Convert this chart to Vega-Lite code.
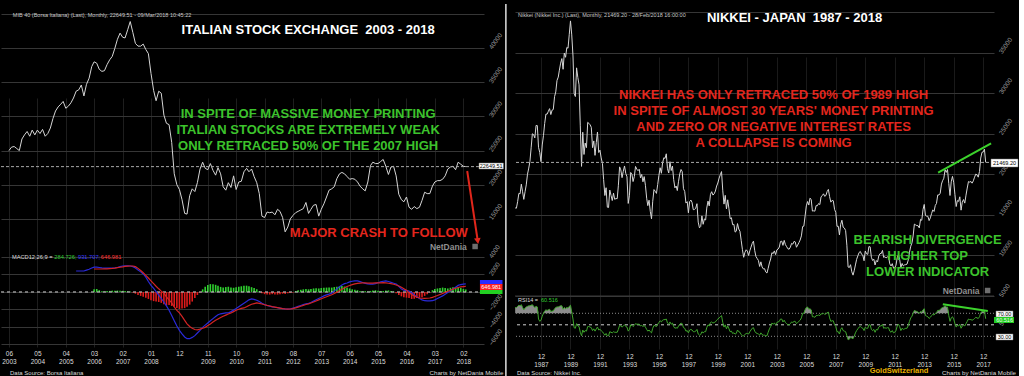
{
"$schema":"https://vega.github.io/schema/vega-lite/v6.json",
"background":"#000000",
"padding":{"left":0,"top":3,"right":0,"bottom":0},
"bounds":"flush",
"spacing":31,
"config":{"view":{"stroke":null},"font":"Liberation Sans","text":{"font":"Liberation Sans"},"axis":{"labelFont":"Liberation Sans"}},
"datasets":{
"mib":[
{"d":"2003-06","v":25000},{"d":"2003-07","v":25500},{"d":"2003-08","v":25600},{"d":"2003-09","v":25300},{"d":"2003-10","v":25000},{"d":"2003-11","v":26700},{"d":"2003-12","v":27300},
{"d":"2004-01","v":27800},{"d":"2004-02","v":27100},{"d":"2004-03","v":28000},{"d":"2004-04","v":27300},{"d":"2004-05","v":28000},{"d":"2004-06","v":27500},{"d":"2004-07","v":28100},{"d":"2004-08","v":27100},{"d":"2004-09","v":27500},{"d":"2004-10","v":28300},{"d":"2004-11","v":29700},{"d":"2004-12","v":30800},
{"d":"2005-01","v":31400},{"d":"2005-02","v":31800},{"d":"2005-03","v":32200},{"d":"2005-04","v":31200},{"d":"2005-05","v":31500},{"d":"2005-06","v":32000},{"d":"2005-07","v":32700},{"d":"2005-08","v":33700},{"d":"2005-09","v":33900},{"d":"2005-10","v":34600},{"d":"2005-11","v":33000},{"d":"2005-12","v":34700},
{"d":"2006-01","v":35600},{"d":"2006-02","v":37300},{"d":"2006-03","v":38000},{"d":"2006-04","v":37800},{"d":"2006-05","v":36900},{"d":"2006-06","v":36600},{"d":"2006-07","v":36700},{"d":"2006-08","v":37600},{"d":"2006-09","v":38300},{"d":"2006-10","v":38800},{"d":"2006-11","v":40000},{"d":"2006-12","v":41300},
{"d":"2007-01","v":42200},{"d":"2007-02","v":41600},{"d":"2007-03","v":41500},{"d":"2007-04","v":42700},{"d":"2007-05","v":43900},{"d":"2007-06","v":42300},{"d":"2007-07","v":40700},{"d":"2007-08","v":40300},{"d":"2007-09","v":40300},{"d":"2007-10","v":40600},{"d":"2007-11","v":39800},{"d":"2007-12","v":39200},
{"d":"2008-01","v":36300},{"d":"2008-02","v":33800},{"d":"2008-03","v":32300},{"d":"2008-04","v":33700},{"d":"2008-05","v":33400},{"d":"2008-06","v":30200},{"d":"2008-07","v":29000},{"d":"2008-08","v":28800},{"d":"2008-09","v":26200},{"d":"2008-10","v":21600},{"d":"2008-11","v":20000},{"d":"2008-12","v":19300},
{"d":"2009-01","v":17800},{"d":"2009-02","v":15800},{"d":"2009-03","v":15700},{"d":"2009-04","v":18400},{"d":"2009-05","v":19400},{"d":"2009-06","v":19000},{"d":"2009-07","v":20300},{"d":"2009-08","v":22300},{"d":"2009-09","v":23300},{"d":"2009-10","v":22400},{"d":"2009-11","v":22200},{"d":"2009-12","v":23100},
{"d":"2010-01","v":22100},{"d":"2010-02","v":21400},{"d":"2010-03","v":22500},{"d":"2010-04","v":21600},{"d":"2010-05","v":19700},{"d":"2010-06","v":19200},{"d":"2010-07","v":20300},{"d":"2010-08","v":19600},{"d":"2010-09","v":21300},{"d":"2010-10","v":19300},{"d":"2010-11","v":20400},{"d":"2010-12","v":20500},
{"d":"2011-01","v":21900},{"d":"2011-02","v":22400},{"d":"2011-03","v":21900},{"d":"2011-04","v":22300},{"d":"2011-05","v":21200},{"d":"2011-06","v":20300},{"d":"2011-07","v":18700},{"d":"2011-08","v":15400},{"d":"2011-09","v":15200},{"d":"2011-10","v":16000},{"d":"2011-11","v":15900},{"d":"2011-12","v":16000},
{"d":"2012-01","v":15600},{"d":"2012-02","v":16400},{"d":"2012-03","v":16100},{"d":"2012-04","v":15200},{"d":"2012-05","v":13100},{"d":"2012-06","v":13800},{"d":"2012-07","v":15000},{"d":"2012-08","v":15500},{"d":"2012-09","v":15900},{"d":"2012-10","v":16100},{"d":"2012-11","v":16300},{"d":"2012-12","v":16500},
{"d":"2013-01","v":17400},{"d":"2013-02","v":15800},{"d":"2013-03","v":16400},{"d":"2013-04","v":17000},{"d":"2013-05","v":17100},{"d":"2013-06","v":15400},{"d":"2013-07","v":16400},{"d":"2013-08","v":17200},{"d":"2013-09","v":18200},{"d":"2013-10","v":19200},{"d":"2013-11","v":19400},{"d":"2013-12","v":19700},
{"d":"2014-01","v":20900},{"d":"2014-02","v":21600},{"d":"2014-03","v":21800},{"d":"2014-04","v":21600},{"d":"2014-05","v":21200},{"d":"2014-06","v":20800},{"d":"2014-07","v":20900},{"d":"2014-08","v":20800},{"d":"2014-09","v":20400},{"d":"2014-10","v":19800},{"d":"2014-11","v":19400},{"d":"2014-12","v":19100},
{"d":"2015-01","v":20400},{"d":"2015-02","v":22800},{"d":"2015-03","v":23300},{"d":"2015-04","v":23100},{"d":"2015-05","v":23100},{"d":"2015-06","v":23400},{"d":"2015-07","v":23700},{"d":"2015-08","v":22700},{"d":"2015-09","v":21500},{"d":"2015-10","v":22600},{"d":"2015-11","v":22700},{"d":"2015-12","v":21300},
{"d":"2016-01","v":18600},{"d":"2016-02","v":17800},{"d":"2016-03","v":17500},{"d":"2016-04","v":18200},{"d":"2016-05","v":16700},{"d":"2016-06","v":16400},{"d":"2016-07","v":16800},{"d":"2016-08","v":16500},{"d":"2016-09","v":16700},{"d":"2016-10","v":17700},{"d":"2016-11","v":18900},{"d":"2016-12","v":18700},
{"d":"2017-01","v":18700},{"d":"2017-02","v":19800},{"d":"2017-03","v":20400},{"d":"2017-04","v":20600},{"d":"2017-05","v":20600},{"d":"2017-06","v":20800},{"d":"2017-07","v":21300},{"d":"2017-08","v":22300},{"d":"2017-09","v":22600},{"d":"2017-10","v":22700},{"d":"2017-11","v":22200},{"d":"2017-12","v":23300},
{"d":"2018-01","v":23000},{"d":"2018-02","v":22700},{"d":"2018-03","v":22649.51}
],
"macd":[
{"d":"2005-08","m":2400},{"d":"2005-09","m":2400},{"d":"2005-10","m":2400},{"d":"2005-11","m":2400},{"d":"2005-12","m":2500},
{"d":"2006-01","m":2600},{"d":"2006-02","m":2750},{"d":"2006-03","m":2850,"s":2630,"h":300},{"d":"2006-04","m":2850,"s":2630,"h":340},{"d":"2006-05","m":2800,"s":2630,"h":200},{"d":"2006-06","m":2750,"s":2630,"h":80},{"d":"2006-07","m":2740,"s":2640,"h":60},{"d":"2006-08","m":2740,"s":2650,"h":100},{"d":"2006-09","m":2740,"s":2680,"h":120},{"d":"2006-10","m":2740,"s":2700,"h":150},{"d":"2006-11","m":2760,"s":2730,"h":130},{"d":"2006-12","m":2800,"s":2780,"h":160},
{"d":"2007-01","m":2900,"s":2830,"h":150},{"d":"2007-02","m":2970,"s":2870,"h":130},{"d":"2007-03","m":2990,"s":2920,"h":100},{"d":"2007-04","m":3000,"s":2950,"h":80},{"d":"2007-05","m":2970,"s":2970,"h":50},{"d":"2007-06","m":2900,"s":2970,"h":-50},{"d":"2007-07","m":2740,"s":2900,"h":-200},{"d":"2007-08","m":2500,"s":2700,"h":-350},{"d":"2007-09","m":2300,"s":2450,"h":-450},{"d":"2007-10","m":2060,"s":2200,"h":-550},{"d":"2007-11","m":1700,"s":1900,"h":-650},{"d":"2007-12","m":1200,"s":1600,"h":-800},
{"d":"2008-01","m":750,"s":1260,"h":-950},{"d":"2008-02","m":400,"s":950,"h":-1050},{"d":"2008-03","m":50,"s":650,"h":-1100},{"d":"2008-04","m":-350,"s":360,"h":-1150},{"d":"2008-05","m":-750,"s":100,"h":-1250},{"d":"2008-06","m":-1150,"s":-150,"h":-1400},{"d":"2008-07","m":-1600,"s":-550,"h":-1550},{"d":"2008-08","m":-2100,"s":-900,"h":-1500},{"d":"2008-09","m":-2700,"s":-1260,"h":-1600},{"d":"2008-10","m":-3300,"s":-1700,"h":-1700},{"d":"2008-11","m":-3900,"s":-2100,"h":-1850},{"d":"2008-12","m":-4400,"s":-2400,"h":-1950},
{"d":"2009-01","m":-4800,"s":-2800,"h":-1900},{"d":"2009-02","m":-5150,"s":-3250,"h":-1850},{"d":"2009-03","m":-5350,"s":-3650,"h":-1700},{"d":"2009-04","m":-5350,"s":-3950,"h":-1450},{"d":"2009-05","m":-5200,"s":-4150,"h":-1100},{"d":"2009-06","m":-5000,"s":-4300,"h":-700},{"d":"2009-07","m":-4700,"s":-4340,"h":-350},{"d":"2009-08","m":-4400,"s":-4250,"h":-50},{"d":"2009-09","m":-4050,"s":-4150,"h":300},{"d":"2009-10","m":-3800,"s":-4050,"h":600},{"d":"2009-11","m":-3550,"s":-3850,"h":800},{"d":"2009-12","m":-3300,"s":-3660,"h":900},
{"d":"2010-01","m":-3050,"s":-3450,"h":880},{"d":"2010-02","m":-2800,"s":-3250,"h":820},{"d":"2010-03","m":-2600,"s":-3090,"h":700},{"d":"2010-04","m":-2500,"s":-2930,"h":580},{"d":"2010-05","m":-2450,"s":-2780,"h":500},{"d":"2010-06","m":-2400,"s":-2650,"h":560},{"d":"2010-07","m":-2400,"s":-2520,"h":600},{"d":"2010-08","m":-2250,"s":-2400,"h":520},{"d":"2010-09","m":-2080,"s":-2250,"h":480},{"d":"2010-10","m":-1900,"s":-2100,"h":550},{"d":"2010-11","m":-1700,"s":-1980,"h":600},{"d":"2010-12","m":-1500,"s":-1880,"h":650},
{"d":"2011-01","m":-1300,"s":-1830,"h":700},{"d":"2011-02","m":-1100,"s":-1700,"h":720},{"d":"2011-03","m":-900,"s":-1550,"h":650},{"d":"2011-04","m":-800,"s":-1400,"h":550},{"d":"2011-05","m":-850,"s":-1330,"h":450},{"d":"2011-06","m":-950,"s":-1260,"h":300},{"d":"2011-07","m":-1100,"s":-1300,"h":100},{"d":"2011-08","m":-1300,"s":-1380,"h":-150},{"d":"2011-09","m":-1450,"s":-1460,"h":-250},{"d":"2011-10","m":-1550,"s":-1540,"h":-280},{"d":"2011-11","m":-1620,"s":-1610,"h":-300},{"d":"2011-12","m":-1700,"s":-1680,"h":-250},
{"d":"2012-01","m":-1750,"s":-1740,"h":-280},{"d":"2012-02","m":-1800,"s":-1800,"h":-300},{"d":"2012-03","m":-1850,"s":-1850,"h":-250},{"d":"2012-04","m":-1900,"s":-1900,"h":-200},{"d":"2012-05","m":-1950,"s":-1940,"h":-220},{"d":"2012-06","m":-1970,"s":-1960,"h":-150},{"d":"2012-07","m":-1950,"s":-1950,"h":-100},{"d":"2012-08","m":-1850,"s":-1900,"h":-50},{"d":"2012-09","m":-1750,"s":-1820,"h":100},{"d":"2012-10","m":-1650,"s":-1730,"h":200},{"d":"2012-11","m":-1550,"s":-1630,"h":250},{"d":"2012-12","m":-1450,"s":-1530,"h":300},
{"d":"2013-01","m":-1350,"s":-1440,"h":350},{"d":"2013-02","m":-1300,"s":-1360,"h":300},{"d":"2013-03","m":-1200,"s":-1260,"h":350},{"d":"2013-04","m":-1050,"s":-1150,"h":400},{"d":"2013-05","m":-900,"s":-1030,"h":420},{"d":"2013-06","m":-750,"s":-900,"h":400},{"d":"2013-07","m":-600,"s":-780,"h":450},{"d":"2013-08","m":-450,"s":-660,"h":480},{"d":"2013-09","m":-330,"s":-550,"h":500},{"d":"2013-10","m":-250,"s":-430,"h":520},{"d":"2013-11","m":-150,"s":-320,"h":500},{"d":"2013-12","m":100,"s":-180,"h":560},
{"d":"2014-01","m":350,"s":-20,"h":600},{"d":"2014-02","m":600,"s":150,"h":650},{"d":"2014-03","m":800,"s":320,"h":680},{"d":"2014-04","m":950,"s":480,"h":620},{"d":"2014-05","m":1030,"s":620,"h":500},{"d":"2014-06","m":1150,"s":740,"h":400},{"d":"2014-07","m":1230,"s":840,"h":300},{"d":"2014-08","m":1260,"s":920,"h":250},{"d":"2014-09","m":1260,"s":980,"h":200},{"d":"2014-10","m":1180,"s":1010,"h":120},{"d":"2014-11","m":1080,"s":1030,"h":80},{"d":"2014-12","m":980,"s":1030,"h":100},
{"d":"2015-01","m":920,"s":1020,"h":60},{"d":"2015-02","m":900,"s":1010,"h":120},{"d":"2015-03","m":900,"s":1020,"h":180},{"d":"2015-04","m":950,"s":1030,"h":200},{"d":"2015-05","m":1050,"s":1040,"h":150},{"d":"2015-06","m":1150,"s":1050,"h":100},{"d":"2015-07","m":1230,"s":1060,"h":120},{"d":"2015-08","m":1260,"s":1050,"h":160},{"d":"2015-09","m":1200,"s":1000,"h":180},{"d":"2015-10","m":1100,"s":950,"h":100},{"d":"2015-11","m":1000,"s":880,"h":50},{"d":"2015-12","m":900,"s":800,"h":-150},
{"d":"2016-01","m":650,"s":690,"h":-350},{"d":"2016-02","m":350,"s":550,"h":-500},{"d":"2016-03","m":200,"s":380,"h":-600},{"d":"2016-04","m":150,"s":200,"h":-650},{"d":"2016-05","m":100,"s":-100,"h":-700},{"d":"2016-06","m":-100,"s":-300,"h":-800},{"d":"2016-07","m":-350,"s":-470,"h":-780},{"d":"2016-08","m":-550,"s":-600,"h":-700},{"d":"2016-09","m":-750,"s":-690,"h":-650},{"d":"2016-10","m":-900,"s":-720,"h":-600},{"d":"2016-11","m":-1000,"s":-730,"h":-450},{"d":"2016-12","m":-1030,"s":-720,"h":-250},
{"d":"2017-01","m":-1030,"s":-690,"h":-50},{"d":"2017-02","m":-1000,"s":-620,"h":200},{"d":"2017-03","m":-900,"s":-520,"h":350},{"d":"2017-04","m":-750,"s":-410,"h":400},{"d":"2017-05","m":-600,"s":-290,"h":450},{"d":"2017-06","m":-450,"s":-170,"h":500},{"d":"2017-07","m":-250,"s":-50,"h":450},{"d":"2017-08","m":-50,"s":80,"h":400},{"d":"2017-09","m":150,"s":200,"h":480},{"d":"2017-10","m":350,"s":320,"h":550},{"d":"2017-11","m":550,"s":420,"h":520},{"d":"2017-12","m":750,"s":510,"h":500},
{"d":"2018-01","m":850,"s":580,"h":450},{"d":"2018-02","m":900,"s":620,"h":350},{"d":"2018-03","m":931.707,"s":646.981,"h":284.726}
],
"nk":[
{"d":"1986-03","v":15860,"r":80},{"d":"1986-04","v":15825,"r":80},{"d":"1986-05","v":16630,"r":82},{"d":"1986-06","v":17650,"r":84},{"d":"1986-07","v":17600,"r":83},{"d":"1986-08","v":18790,"r":85},{"d":"1986-09","v":17850,"r":80},{"d":"1986-10","v":16910,"r":76},{"d":"1986-11","v":17850,"r":79},{"d":"1986-12","v":18700,"r":81},
{"d":"1987-01","v":20020,"r":82},{"d":"1987-02","v":20770,"r":83},{"d":"1987-03","v":21570,"r":83},{"d":"1987-04","v":23270,"r":84},{"d":"1987-05","v":25000,"r":85},{"d":"1987-06","v":24900,"r":82},{"d":"1987-07","v":24490,"r":80},{"d":"1987-08","v":26030,"r":82},{"d":"1987-09","v":26010,"r":81},{"d":"1987-10","v":23330,"r":60},{"d":"1987-11","v":22690,"r":56},{"d":"1987-12","v":21560,"r":58},
{"d":"1988-01","v":23620,"r":65},{"d":"1988-02","v":24800,"r":70},{"d":"1988-03","v":26260,"r":74},{"d":"1988-04","v":27430,"r":76},{"d":"1988-05","v":27420,"r":75},{"d":"1988-06","v":27770,"r":76},{"d":"1988-07","v":28100,"r":77},{"d":"1988-08","v":27370,"r":73},{"d":"1988-09","v":27920,"r":74},{"d":"1988-10","v":27990,"r":74},{"d":"1988-11","v":29580,"r":78},{"d":"1988-12","v":30160,"r":80},
{"d":"1989-01","v":31580,"r":81},{"d":"1989-02","v":31990,"r":81},{"d":"1989-03","v":32840,"r":82},{"d":"1989-04","v":33710,"r":83},{"d":"1989-05","v":34270,"r":83},{"d":"1989-06","v":32950,"r":77},{"d":"1989-07","v":34950,"r":80},{"d":"1989-08","v":34430,"r":78},{"d":"1989-09","v":35640,"r":80},{"d":"1989-10","v":35550,"r":79},{"d":"1989-11","v":37270,"r":82},{"d":"1989-12","v":38916,"r":84},
{"d":"1990-01","v":37190,"r":72},{"d":"1990-02","v":34590,"r":60},{"d":"1990-03","v":29980,"r":45},{"d":"1990-04","v":29590,"r":44},{"d":"1990-05","v":33130,"r":52},{"d":"1990-06","v":31940,"r":48},{"d":"1990-07","v":31040,"r":47},{"d":"1990-08","v":25980,"r":37},{"d":"1990-09","v":20980,"r":31},{"d":"1990-10","v":25190,"r":41},{"d":"1990-11","v":22450,"r":37},{"d":"1990-12","v":23850,"r":40},
{"d":"1991-01","v":23290,"r":39},{"d":"1991-02","v":26410,"r":47},{"d":"1991-03","v":26290,"r":47},{"d":"1991-04","v":26110,"r":46},{"d":"1991-05","v":25790,"r":45},{"d":"1991-06","v":23290,"r":40},{"d":"1991-07","v":24120,"r":43},{"d":"1991-08","v":22340,"r":39},{"d":"1991-09","v":23920,"r":43},{"d":"1991-10","v":25220,"r":46},{"d":"1991-11","v":22690,"r":41},{"d":"1991-12","v":22980,"r":42},
{"d":"1992-01","v":22020,"r":40},{"d":"1992-02","v":21340,"r":38},{"d":"1992-03","v":19350,"r":35},{"d":"1992-04","v":17390,"r":32},{"d":"1992-05","v":18350,"r":35},{"d":"1992-06","v":15950,"r":31},{"d":"1992-07","v":15910,"r":31},{"d":"1992-08","v":18060,"r":38},{"d":"1992-09","v":17400,"r":37},{"d":"1992-10","v":16770,"r":36},{"d":"1992-11","v":17680,"r":38},{"d":"1992-12","v":16920,"r":37},
{"d":"1993-01","v":17020,"r":37},{"d":"1993-02","v":17000,"r":37},{"d":"1993-03","v":18590,"r":42},{"d":"1993-04","v":20920,"r":49},{"d":"1993-05","v":20550,"r":48},{"d":"1993-06","v":19590,"r":46},{"d":"1993-07","v":20380,"r":48},{"d":"1993-08","v":21030,"r":50},{"d":"1993-09","v":20110,"r":47},{"d":"1993-10","v":19700,"r":46},{"d":"1993-11","v":16410,"r":39},{"d":"1993-12","v":17420,"r":42},
{"d":"1994-01","v":20230,"r":50},{"d":"1994-02","v":19990,"r":49},{"d":"1994-03","v":19110,"r":47},{"d":"1994-04","v":19730,"r":49},{"d":"1994-05","v":20970,"r":52},{"d":"1994-06","v":20640,"r":51},{"d":"1994-07","v":20450,"r":51},{"d":"1994-08","v":20630,"r":51},{"d":"1994-09","v":19560,"r":48},{"d":"1994-10","v":19990,"r":49},{"d":"1994-11","v":19080,"r":47},{"d":"1994-12","v":19720,"r":49},
{"d":"1995-01","v":18650,"r":46},{"d":"1995-02","v":17050,"r":42},{"d":"1995-03","v":16140,"r":39},{"d":"1995-04","v":16810,"r":41},{"d":"1995-05","v":15440,"r":38},{"d":"1995-06","v":14520,"r":36},{"d":"1995-07","v":16680,"r":44},{"d":"1995-08","v":18120,"r":49},{"d":"1995-09","v":17910,"r":48},{"d":"1995-10","v":17650,"r":47},{"d":"1995-11","v":18740,"r":51},{"d":"1995-12","v":19870,"r":54},
{"d":"1996-01","v":20810,"r":57},{"d":"1996-02","v":20130,"r":55},{"d":"1996-03","v":21410,"r":58},{"d":"1996-04","v":22040,"r":59},{"d":"1996-05","v":21960,"r":59},{"d":"1996-06","v":22530,"r":60},{"d":"1996-07","v":20690,"r":53},{"d":"1996-08","v":20170,"r":51},{"d":"1996-09","v":21560,"r":55},{"d":"1996-10","v":20470,"r":51},{"d":"1996-11","v":21020,"r":53},{"d":"1996-12","v":19360,"r":47},
{"d":"1997-01","v":18330,"r":44},{"d":"1997-02","v":18560,"r":45},{"d":"1997-03","v":18000,"r":44},{"d":"1997-04","v":19150,"r":48},{"d":"1997-05","v":20070,"r":51},{"d":"1997-06","v":20600,"r":53},{"d":"1997-07","v":20330,"r":52},{"d":"1997-08","v":18230,"r":45},{"d":"1997-09","v":17890,"r":44},{"d":"1997-10","v":16460,"r":39},{"d":"1997-11","v":16630,"r":40},{"d":"1997-12","v":15260,"r":36},
{"d":"1998-01","v":16630,"r":41},{"d":"1998-02","v":16830,"r":42},{"d":"1998-03","v":16530,"r":41},{"d":"1998-04","v":15640,"r":38},{"d":"1998-05","v":15670,"r":38},{"d":"1998-06","v":15830,"r":39},{"d":"1998-07","v":16380,"r":42},{"d":"1998-08","v":14110,"r":34},{"d":"1998-09","v":13410,"r":32},{"d":"1998-10","v":13560,"r":33},{"d":"1998-11","v":14880,"r":38},{"d":"1998-12","v":13840,"r":36},
{"d":"1999-01","v":14500,"r":38},{"d":"1999-02","v":14370,"r":38},{"d":"1999-03","v":15840,"r":45},{"d":"1999-04","v":16700,"r":50},{"d":"1999-05","v":16110,"r":48},{"d":"1999-06","v":17530,"r":54},{"d":"1999-07","v":17860,"r":55},{"d":"1999-08","v":17440,"r":53},{"d":"1999-09","v":17600,"r":54},{"d":"1999-10","v":17940,"r":55},{"d":"1999-11","v":18560,"r":58},{"d":"1999-12","v":18930,"r":60},
{"d":"2000-01","v":19540,"r":62},{"d":"2000-02","v":19960,"r":64},{"d":"2000-03","v":20340,"r":66},{"d":"2000-04","v":17970,"r":54},{"d":"2000-05","v":16330,"r":46},{"d":"2000-06","v":17410,"r":50},{"d":"2000-07","v":15730,"r":43},{"d":"2000-08","v":16860,"r":48},{"d":"2000-09","v":15750,"r":43},{"d":"2000-10","v":14540,"r":38},{"d":"2000-11","v":14650,"r":39},{"d":"2000-12","v":13790,"r":35},
{"d":"2001-01","v":13840,"r":36},{"d":"2001-02","v":12880,"r":34},{"d":"2001-03","v":12990,"r":35},{"d":"2001-04","v":13930,"r":41},{"d":"2001-05","v":13260,"r":38},{"d":"2001-06","v":12970,"r":37},{"d":"2001-07","v":11860,"r":33},{"d":"2001-08","v":10710,"r":31},{"d":"2001-09","v":9770,"r":31},{"d":"2001-10","v":10370,"r":33},{"d":"2001-11","v":10700,"r":35},{"d":"2001-12","v":10540,"r":35},
{"d":"2002-01","v":9990,"r":34},{"d":"2002-02","v":10590,"r":38},{"d":"2002-03","v":11020,"r":41},{"d":"2002-04","v":11490,"r":44},{"d":"2002-05","v":11760,"r":45},{"d":"2002-06","v":10620,"r":39},{"d":"2002-07","v":9880,"r":36},{"d":"2002-08","v":9620,"r":35},{"d":"2002-09","v":9380,"r":34},{"d":"2002-10","v":8640,"r":32},{"d":"2002-11","v":9210,"r":36},{"d":"2002-12","v":8580,"r":33},
{"d":"2003-01","v":8340,"r":32},{"d":"2003-02","v":8360,"r":32},{"d":"2003-03","v":7970,"r":31},{"d":"2003-04","v":7830,"r":31},{"d":"2003-05","v":8420,"r":37},{"d":"2003-06","v":9080,"r":43},{"d":"2003-07","v":9560,"r":47},{"d":"2003-08","v":10340,"r":53},{"d":"2003-09","v":10220,"r":51},{"d":"2003-10","v":10560,"r":53},{"d":"2003-11","v":10100,"r":50},{"d":"2003-12","v":10680,"r":54},
{"d":"2004-01","v":10780,"r":55},{"d":"2004-02","v":11040,"r":56},{"d":"2004-03","v":11720,"r":60},{"d":"2004-04","v":11760,"r":60},{"d":"2004-05","v":11240,"r":55},{"d":"2004-06","v":11860,"r":58},{"d":"2004-07","v":11330,"r":54},{"d":"2004-08","v":11080,"r":52},{"d":"2004-09","v":10820,"r":50},{"d":"2004-10","v":10770,"r":50},{"d":"2004-11","v":11030,"r":52},{"d":"2004-12","v":11490,"r":55},
{"d":"2005-01","v":11390,"r":54},{"d":"2005-02","v":11740,"r":56},{"d":"2005-03","v":11670,"r":56},{"d":"2005-04","v":11010,"r":52},{"d":"2005-05","v":11280,"r":54},{"d":"2005-06","v":11580,"r":56},{"d":"2005-07","v":11900,"r":58},{"d":"2005-08","v":12410,"r":62},{"d":"2005-09","v":13570,"r":70},{"d":"2005-10","v":13610,"r":70},{"d":"2005-11","v":14870,"r":76},{"d":"2005-12","v":16110,"r":80},
{"d":"2006-01","v":16650,"r":81},{"d":"2006-02","v":16210,"r":77},{"d":"2006-03","v":17060,"r":78},{"d":"2006-04","v":16910,"r":76},{"d":"2006-05","v":15470,"r":64},{"d":"2006-06","v":15500,"r":64},{"d":"2006-07","v":15460,"r":63},{"d":"2006-08","v":16140,"r":66},{"d":"2006-09","v":16130,"r":66},{"d":"2006-10","v":16400,"r":67},{"d":"2006-11","v":16270,"r":66},{"d":"2006-12","v":17230,"r":69},
{"d":"2007-01","v":17380,"r":69},{"d":"2007-02","v":17600,"r":70},{"d":"2007-03","v":17290,"r":68},{"d":"2007-04","v":17400,"r":69},{"d":"2007-05","v":17880,"r":71},{"d":"2007-06","v":18140,"r":72},{"d":"2007-07","v":17250,"r":62},{"d":"2007-08","v":16570,"r":56},{"d":"2007-09","v":16790,"r":57},{"d":"2007-10","v":16740,"r":57},{"d":"2007-11","v":15680,"r":50},{"d":"2007-12","v":15310,"r":47},
{"d":"2008-01","v":13590,"r":38},{"d":"2008-02","v":13600,"r":38},{"d":"2008-03","v":12530,"r":34},{"d":"2008-04","v":13850,"r":42},{"d":"2008-05","v":14340,"r":45},{"d":"2008-06","v":13480,"r":40},{"d":"2008-07","v":13380,"r":39},{"d":"2008-08","v":13070,"r":38},{"d":"2008-09","v":11260,"r":31},{"d":"2008-10","v":8580,"r":24},{"d":"2008-11","v":8510,"r":25},{"d":"2008-12","v":8860,"r":28},
{"d":"2009-01","v":7990,"r":27},{"d":"2009-02","v":7570,"r":26},{"d":"2009-03","v":8110,"r":30},{"d":"2009-04","v":8830,"r":36},{"d":"2009-05","v":9520,"r":40},{"d":"2009-06","v":9960,"r":43},{"d":"2009-07","v":10360,"r":46},{"d":"2009-08","v":10490,"r":47},{"d":"2009-09","v":10130,"r":45},{"d":"2009-10","v":10030,"r":44},{"d":"2009-11","v":9350,"r":40},{"d":"2009-12","v":10550,"r":46},
{"d":"2010-01","v":10200,"r":44},{"d":"2010-02","v":10130,"r":44},{"d":"2010-03","v":11090,"r":50},{"d":"2010-04","v":11060,"r":50},{"d":"2010-05","v":9770,"r":42},{"d":"2010-06","v":9380,"r":40},{"d":"2010-07","v":9540,"r":42},{"d":"2010-08","v":8820,"r":37},{"d":"2010-09","v":9370,"r":42},{"d":"2010-10","v":9200,"r":41},{"d":"2010-11","v":9940,"r":46},{"d":"2010-12","v":10230,"r":48},
{"d":"2011-01","v":10240,"r":48},{"d":"2011-02","v":10620,"r":51},{"d":"2011-03","v":9760,"r":44},{"d":"2011-04","v":9850,"r":45},{"d":"2011-05","v":9690,"r":44},{"d":"2011-06","v":9820,"r":45},{"d":"2011-07","v":9830,"r":45},{"d":"2011-08","v":8960,"r":39},{"d":"2011-09","v":8700,"r":37},{"d":"2011-10","v":8990,"r":40},{"d":"2011-11","v":8430,"r":36},{"d":"2011-12","v":8460,"r":37},
{"d":"2012-01","v":8800,"r":40},{"d":"2012-02","v":9720,"r":48},{"d":"2012-03","v":10080,"r":51},{"d":"2012-04","v":9520,"r":47},{"d":"2012-05","v":8540,"r":40},{"d":"2012-06","v":9010,"r":44},{"d":"2012-07","v":8700,"r":42},{"d":"2012-08","v":8840,"r":43},{"d":"2012-09","v":8870,"r":44},{"d":"2012-10","v":8930,"r":44},{"d":"2012-11","v":9450,"r":49},{"d":"2012-12","v":10400,"r":56},
{"d":"2013-01","v":11140,"r":62},{"d":"2013-02","v":11560,"r":65},{"d":"2013-03","v":12400,"r":70},{"d":"2013-04","v":13860,"r":75},{"d":"2013-05","v":13770,"r":74},{"d":"2013-06","v":13680,"r":73},{"d":"2013-07","v":13670,"r":72},{"d":"2013-08","v":13390,"r":70},{"d":"2013-09","v":14460,"r":73},{"d":"2013-10","v":14330,"r":72},{"d":"2013-11","v":15660,"r":76},{"d":"2013-12","v":16290,"r":78},
{"d":"2014-01","v":14910,"r":66},{"d":"2014-02","v":14840,"r":65},{"d":"2014-03","v":14830,"r":64},{"d":"2014-04","v":14300,"r":61},{"d":"2014-05","v":14630,"r":63},{"d":"2014-06","v":15160,"r":66},{"d":"2014-07","v":15620,"r":68},{"d":"2014-08","v":15420,"r":67},{"d":"2014-09","v":16170,"r":70},{"d":"2014-10","v":16410,"r":71},{"d":"2014-11","v":17460,"r":75},{"d":"2014-12","v":17450,"r":75},
{"d":"2015-01","v":17670,"r":76},{"d":"2015-02","v":18800,"r":79},{"d":"2015-03","v":19210,"r":80},{"d":"2015-04","v":19520,"r":81},{"d":"2015-05","v":20560,"r":83},{"d":"2015-06","v":20240,"r":81},{"d":"2015-07","v":20590,"r":81},{"d":"2015-08","v":18890,"r":66},{"d":"2015-09","v":17390,"r":56},{"d":"2015-10","v":19080,"r":62},{"d":"2015-11","v":19750,"r":64},{"d":"2015-12","v":19030,"r":60},
{"d":"2016-01","v":17520,"r":52},{"d":"2016-02","v":16030,"r":46},{"d":"2016-03","v":16760,"r":49},{"d":"2016-04","v":16670,"r":48},{"d":"2016-05","v":17230,"r":51},{"d":"2016-06","v":15580,"r":44},{"d":"2016-07","v":16570,"r":48},{"d":"2016-08","v":16890,"r":50},{"d":"2016-09","v":16450,"r":48},{"d":"2016-10","v":17430,"r":52},{"d":"2016-11","v":18310,"r":56},{"d":"2016-12","v":19110,"r":60},
{"d":"2017-01","v":19040,"r":59},{"d":"2017-02","v":19120,"r":59},{"d":"2017-03","v":18910,"r":58},{"d":"2017-04","v":19200,"r":59},{"d":"2017-05","v":19650,"r":61},{"d":"2017-06","v":20030,"r":63},{"d":"2017-07","v":19930,"r":62},{"d":"2017-08","v":19650,"r":61},{"d":"2017-09","v":20360,"r":64},{"d":"2017-10","v":22010,"r":71},{"d":"2017-11","v":22720,"r":73},{"d":"2017-12","v":22760,"r":73},
{"d":"2018-01","v":23100,"r":74},{"d":"2018-02","v":21469.2,"r":60.516}
]
},
"hconcat":[
{
"width":483,"height":343,
"resolve":{"scale":{"y":"independent"}},
"layer":[
{"layer":[
{"data":{"name":"mib"},"mark":{"type":"line","color":"#d6d6d6","strokeWidth":1},
 "encoding":{
  "x":{"field":"d","type":"temporal","scale":{"domain":[{"year":2003,"month":4,"date":27,"utc":true},{"year":2018,"month":8,"date":4,"utc":true}],"nice":false}},
  "y":{"field":"v","type":"quantitative","scale":{"domain":[10000,46470],"range":[249,0],"zero":false,"nice":false},
   "axis":{"orient":"right","values":[15000,20000,25000,30000,35000,40000,45000],"tickCount":40,"labelExpr":"datum.value == 45000 ? '' : datum.label","format":"d","grid":true,"gridColor":"#363636","domain":false,"ticks":false,"labelAngle":-55,"labelAlign":"left","labelBaseline":"middle","labelFontSize":6.5,"labelColor":"#9a9a9a","labelPadding":6,"labelOverlap":false,"title":null}}}},
{"data":{"values":[{}]},"mark":{"type":"rule","color":"#a8a8a8","strokeDash":[3,2],"strokeWidth":1},"encoding":{"y":{"datum":22649.51,"type":"quantitative"}}},
{"data":{"values":[{}]},"mark":{"type":"text","text":"MIB 40 (Borsa Italiana) (Last), Monthly, 22649.51 - 09/Mar/2018 10:45:22","fontSize":5.5,"color":"#c8c8c8","align":"left","baseline":"alphabetic"},
 "encoding":{"x":{"datum":{"year":2003,"month":7,"date":17,"utc":true},"type":"temporal"},"y":{"datum":44493,"type":"quantitative"}}},
{"data":{"values":[{}]},"mark":{"type":"text","text":"ITALIAN STOCK EXCHANGE \u00a02003 - 2018","fontSize":13,"fontWeight":"bold","color":"#ffffff","align":"center","baseline":"alphabetic"},
 "encoding":{"x":{"datum":{"year":2013,"month":1,"date":27,"utc":true},"type":"temporal"},"y":{"datum":42149,"type":"quantitative"}}},
{"data":{"values":[{}]},"mark":{"type":"text","text":["IN SPITE OF MASSIVE MONEY PRINTING","ITALIAN STOCKS ARE EXTREMELY WEAK","ONLY RETRACED 50% OF THE 2007 HIGH"],"lineHeight":16,"fontSize":13,"fontWeight":"bold","color":"#3cc32c","align":"center","baseline":"alphabetic"},
 "encoding":{"x":{"datum":{"year":2013,"month":1,"date":27,"utc":true},"type":"temporal"},"y":{"datum":29817,"type":"quantitative"}}},
{"data":{"values":[{}]},"mark":{"type":"text","text":"MAJOR CRASH TO FOLLOW","fontSize":13,"fontWeight":"bold","color":"#e3261d","align":"center","baseline":"alphabetic"},
 "encoding":{"x":{"datum":{"year":2015,"month":5,"date":10,"utc":true},"type":"temporal"},"y":{"datum":12342,"type":"quantitative"}}},
{"data":{"values":[{}]},"mark":{"type":"text","text":"NetDania","fontSize":8.5,"fontWeight":"bold","color":"#8f8f8f","align":"center","baseline":"alphabetic"},
 "encoding":{"x":{"datum":{"year":2017,"month":8,"date":7,"utc":true},"type":"temporal"},"y":{"datum":10438,"type":"quantitative"}}},
{"data":{"values":[{}]},"mark":{"type":"point","shape":"square","size":30,"filled":true,"color":"#6e6e6e","opacity":1},
 "encoding":{"x":{"datum":{"year":2018,"month":6,"date":19,"utc":true},"type":"temporal"},"y":{"datum":10952,"type":"quantitative"}}},
{"data":{"values":[{}]},"mark":{"type":"rule","color":"#e0261b","strokeWidth":2},
 "encoding":{"x":{"datum":{"year":2018,"month":3,"date":18,"utc":true},"type":"temporal"},"x2":{"datum":{"year":2018,"month":7,"date":17,"utc":true}},"y":{"datum":22010,"type":"quantitative"},"y2":{"datum":12050}}},
{"data":{"values":[{}]},"mark":{"type":"point","shape":"triangle-down","size":45,"filled":true,"color":"#e0261b","opacity":1,"angle":-8},
 "encoding":{"x":{"datum":{"year":2018,"month":7,"date":20,"utc":true},"type":"temporal"},"y":{"datum":11757,"type":"quantitative"}}},
{"data":{"values":[{}]},"mark":{"type":"rect","color":"#ffffff","stroke":"#777777","strokeWidth":0.5},
 "encoding":{"x":{"datum":{"year":2018,"month":8,"date":4,"utc":true},"type":"temporal"},"x2":{"datum":{"year":2019,"month":5,"date":19,"utc":true}},"y":{"datum":23181,"type":"quantitative"},"y2":{"datum":22302}}},
{"data":{"values":[{}]},"mark":{"type":"text","text":"22649.51","fontSize":5.5,"color":"#000000","align":"center","baseline":"middle"},
 "encoding":{"x":{"datum":{"year":2018,"month":12,"date":26,"utc":true},"type":"temporal"},"y":{"datum":22742,"type":"quantitative"}}},
{"data":{"values":[{}]},"mark":{"type":"rule","color":"#e0e0e0","strokeWidth":1.5},
 "encoding":{"x":{"datum":{"year":2019,"month":6,"date":17,"utc":true},"type":"temporal"},"y":{"datum":46470,"type":"quantitative"},"y2":{"datum":-8163}}}
]},
{"layer":[
{"data":{"name":"macd"},"mark":{"type":"bar","width":1.6},
 "encoding":{
  "x":{"field":"d","type":"temporal","axis":{"orient":"bottom","tickCount":40,"values":[{"year":2003,"month":6,"date":1,"utc":true},{"year":2004,"month":5,"date":1,"utc":true},{"year":2005,"month":4,"date":1,"utc":true},{"year":2006,"month":3,"date":1,"utc":true},{"year":2007,"month":2,"date":1,"utc":true},{"year":2008,"month":1,"date":1,"utc":true},{"year":2008,"month":12,"date":1,"utc":true},{"year":2009,"month":11,"date":1,"utc":true},{"year":2010,"month":10,"date":1,"utc":true},{"year":2011,"month":9,"date":1,"utc":true},{"year":2012,"month":8,"date":1,"utc":true},{"year":2013,"month":7,"date":1,"utc":true},{"year":2014,"month":6,"date":1,"utc":true},{"year":2015,"month":5,"date":1,"utc":true},{"year":2016,"month":4,"date":1,"utc":true},{"year":2017,"month":3,"date":1,"utc":true},{"year":2018,"month":2,"date":1,"utc":true}],
   "labelExpr":"[utcFormat(datum.value, '%m'), (utcyear(datum.value) == 2008 && utcmonth(datum.value) == 11) ? '' : utcFormat(datum.value, '%Y')]",
   "grid":true,"gridColor":"#1e1e1e","domain":false,"ticks":false,"labelFontSize":6.5,"labelColor":"#dddddd","labelPadding":3,"labelLineHeight":8,"labelBaseline":"top","labelAlign":"center","labelFlush":5,"labelOverlap":false,"title":null}},
  "y":{"field":"h","type":"quantitative","scale":{"domain":[-6300,4460],"range":[343,249],"zero":false,"nice":false},
   "axis":{"orient":"right","values":[-6000,-4000,-2000,0,2000,4000],"tickCount":40,"format":"d","grid":true,"gridColor":"#363636","domain":false,"ticks":false,"labelAngle":-55,"labelAlign":"left","labelBaseline":"middle","labelFontSize":6.5,"labelColor":"#9a9a9a","labelPadding":6,"labelOverlap":false,"title":null}},
  "y2":{"datum":0},
  "color":{"condition":{"test":"datum.h < 0","value":"#e01b1b"},"value":"#2fd12f"}}},
{"data":{"values":[{}]},"mark":{"type":"rule","color":"#cfcfcf","strokeDash":[3,3],"strokeWidth":1},"encoding":{"y":{"datum":0,"type":"quantitative"}}},
{"data":{"name":"macd"},"mark":{"type":"line","color":"#2a2ad8","strokeWidth":1.2},"encoding":{"x":{"field":"d","type":"temporal"},"y":{"field":"m","type":"quantitative"}}},
{"data":{"name":"macd"},"mark":{"type":"line","color":"#d42424","strokeWidth":1.2},"encoding":{"x":{"field":"d","type":"temporal"},"y":{"field":"s","type":"quantitative"}}},
{"data":{"values":[{}]},"mark":{"type":"text","text":"MACD12;26;9 = ","fontSize":5.7,"color":"#dddddd","align":"left","baseline":"alphabetic"},
 "encoding":{"x":{"datum":{"year":2003,"month":7,"date":6,"utc":true},"type":"temporal"},"y":{"datum":3716,"type":"quantitative"}}},
{"data":{"values":[{}]},"mark":{"type":"text","text":"284.726;","fontSize":5.7,"color":"#33cc33","align":"left","baseline":"alphabetic"},
 "encoding":{"x":{"datum":{"year":2004,"month":11,"date":17,"utc":true},"type":"temporal"},"y":{"datum":3716,"type":"quantitative"}}},
{"data":{"values":[{}]},"mark":{"type":"text","text":"931.707;","fontSize":5.7,"color":"#3a3aff","align":"left","baseline":"alphabetic"},
 "encoding":{"x":{"datum":{"year":2005,"month":8,"date":23,"utc":true},"type":"temporal"},"y":{"datum":3716,"type":"quantitative"}}},
{"data":{"values":[{}]},"mark":{"type":"text","text":"646.981","fontSize":5.7,"color":"#ff3333","align":"left","baseline":"alphabetic"},
 "encoding":{"x":{"datum":{"year":2006,"month":5,"date":19,"utc":true},"type":"temporal"},"y":{"datum":3716,"type":"quantitative"}}},
{"data":{"values":[{}]},"mark":{"type":"rect","color":"#2b2bff"},
 "encoding":{"x":{"datum":{"year":2018,"month":8,"date":15,"utc":true},"type":"temporal"},"x2":{"datum":{"year":2019,"month":5,"date":8,"utc":true}},"y":{"datum":1369,"type":"quantitative"},"y2":{"datum":911}}},
{"data":{"values":[{}]},"mark":{"type":"rect","color":"#ff2020"},
 "encoding":{"x":{"datum":{"year":2018,"month":8,"date":15,"utc":true},"type":"temporal"},"x2":{"datum":{"year":2019,"month":5,"date":8,"utc":true}},"y":{"datum":911,"type":"quantitative"},"y2":{"datum":225}}},
{"data":{"values":[{}]},"mark":{"type":"rect","color":"#22d022"},
 "encoding":{"x":{"datum":{"year":2018,"month":8,"date":15,"utc":true},"type":"temporal"},"x2":{"datum":{"year":2019,"month":5,"date":8,"utc":true}},"y":{"datum":225,"type":"quantitative"},"y2":{"datum":-233}}},
{"data":{"values":[{}]},"mark":{"type":"text","text":"646.981","fontSize":5.5,"color":"#ffffff","align":"center","baseline":"middle"},
 "encoding":{"x":{"datum":{"year":2018,"month":12,"date":26,"utc":true},"type":"temporal"},"y":{"datum":568,"type":"quantitative"}}},
{"data":{"values":[{}]},"mark":{"type":"text","text":"Data Source: Borsa Italiana","fontSize":6,"color":"#dddddd","align":"left","baseline":"alphabetic"},
 "encoding":{"x":{"datum":{"year":2003,"month":6,"date":13,"utc":true},"type":"temporal"},"y":{"datum":-9505,"type":"quantitative"}}},
{"data":{"values":[{}]},"mark":{"type":"text","text":"Charts by NetDania Mobile","fontSize":6.2,"color":"#dddddd","align":"right","baseline":"alphabetic"},
 "encoding":{"x":{"datum":{"year":2019,"month":5,"date":19,"utc":true},"type":"temporal"},"y":{"datum":-9505,"type":"quantitative"}}}
]}
]
},
{
"width":479,"height":345,
"resolve":{"scale":{"y":"independent"}},
"layer":[
{"layer":[
{"data":{"name":"nk"},"mark":{"type":"line","color":"#d6d6d6","strokeWidth":1},
 "encoding":{
  "x":{"field":"d","type":"temporal","scale":{"domain":[{"year":1986,"month":2,"date":25,"utc":true},{"year":2018,"month":8,"date":26,"utc":true}],"nice":false}},
  "y":{"field":"v","type":"quantitative","scale":{"domain":[5000,41000],"range":[292,0],"zero":false,"nice":false},
   "axis":{"orient":"right","values":[5000,10000,15000,20000,25000,30000,35000,40000],"tickCount":40,"labelExpr":"datum.value == 40000 ? '' : datum.label","format":"d","grid":true,"gridColor":"#363636","domain":false,"ticks":false,"labelAngle":-55,"labelAlign":"left","labelBaseline":"middle","labelFontSize":6.5,"labelColor":"#9a9a9a","labelPadding":6,"labelOverlap":false,"title":null}}}},
{"data":{"values":[{}]},"mark":{"type":"rule","color":"#a8a8a8","strokeDash":[3,2],"strokeWidth":1},"encoding":{"y":{"datum":21469.2,"type":"quantitative"}}},
{"data":{"values":[{}]},"mark":{"type":"text","text":"Nikkei (Nikkei Inc.) (Last), Monthly, 21469.20 - 28/Feb/2018 16:00:00","fontSize":5.5,"color":"#c8c8c8","align":"left","baseline":"alphabetic"},
 "encoding":{"x":{"datum":{"year":1986,"month":5,"date":10,"utc":true},"type":"temporal"},"y":{"datum":39336,"type":"quantitative"}}},
{"data":{"values":[{}]},"mark":{"type":"text","text":"NIKKEI - JAPAN \u00a01987 - 2018","fontSize":13,"fontWeight":"bold","color":"#ffffff","align":"center","baseline":"alphabetic"},
 "encoding":{"x":{"datum":{"year":2005,"month":2,"date":13,"utc":true},"type":"temporal"},"y":{"datum":38781,"type":"quantitative"}}},
{"data":{"values":[{}]},"mark":{"type":"text","text":["NIKKEI HAS ONLY RETRACED 50% OF 1989 HIGH","IN SPITE OF ALMOST 30 YEARS' MONEY PRINTING","AND ZERO OR NEGATIVE INTEREST RATES","A COLLAPSE IS COMING"],"lineHeight":16,"fontSize":13,"fontWeight":"bold","color":"#e3261d","align":"center","baseline":"alphabetic"},
 "encoding":{"x":{"datum":{"year":2003,"month":9,"date":12,"utc":true},"type":"temporal"},"y":{"datum":29287,"type":"quantitative"}}},
{"data":{"values":[{}]},"mark":{"type":"text","text":["BEARISH DIVERGENCE","HIGHER TOP","LOWER INDICATOR"],"lineHeight":16,"fontSize":13,"fontWeight":"bold","color":"#3cc32c","align":"center","baseline":"alphabetic"},
 "encoding":{"x":{"datum":{"year":2014,"month":2,"date":23,"utc":true},"type":"temporal"},"y":{"datum":11410,"type":"quantitative"}}},
{"data":{"values":[{}]},"mark":{"type":"text","text":"NetDania","fontSize":8.5,"fontWeight":"bold","color":"#8f8f8f","align":"center","baseline":"alphabetic"},
 "encoding":{"x":{"datum":{"year":2016,"month":6,"date":2,"utc":true},"type":"temporal"},"y":{"datum":5246,"type":"quantitative"}}},
{"data":{"values":[{}]},"mark":{"type":"point","shape":"square","size":30,"filled":true,"color":"#6e6e6e","opacity":1},
 "encoding":{"x":{"datum":{"year":2018,"month":3,"date":21,"utc":true},"type":"temporal"},"y":{"datum":5677,"type":"quantitative"}}},
{"data":{"values":[{}]},"mark":{"type":"rule","color":"#3cd22c","strokeWidth":2},
 "encoding":{"x":{"datum":{"year":2014,"month":11,"date":10,"utc":true},"type":"temporal"},"x2":{"datum":{"year":2018,"month":6,"date":15,"utc":true}},"y":{"datum":20201,"type":"quantitative"},"y2":{"datum":23826}}},
{"data":{"values":[{}]},"mark":{"type":"rect","color":"#ffffff","stroke":"#777777","strokeWidth":0.5},
 "encoding":{"x":{"datum":{"year":2018,"month":6,"date":12,"utc":true},"type":"temporal"},"x2":{"datum":{"year":2020,"month":4,"date":12,"utc":true}},"y":{"datum":21890,"type":"quantitative"},"y2":{"datum":20904}}},
{"data":{"values":[{}]},"mark":{"type":"text","text":"21469.20","fontSize":5.5,"color":"#000000","align":"center","baseline":"middle"},
 "encoding":{"x":{"datum":{"year":2019,"month":5,"date":14,"utc":true},"type":"temporal"},"y":{"datum":21397,"type":"quantitative"}}}
]},
{"data":{"name":"nk"},"mark":{"type":"area","color":"#8c8c8c"},
 "encoding":{"x":{"field":"d","type":"temporal"},"y":{"field":"r","type":"quantitative","scale":{"domain":[70,100],"range":[309.28,292],"clamp":true,"zero":false,"nice":false},"axis":null},"y2":{"datum":70}}},
{"data":{"name":"nk"},"mark":{"type":"area","color":"#8c8c8c"},
 "encoding":{"x":{"field":"d","type":"temporal"},"y":{"field":"r","type":"quantitative","scale":{"domain":[8,30],"range":[345,332.33],"clamp":true,"zero":false,"nice":false},"axis":null},"y2":{"datum":30}}},
{"layer":[
{"data":{"values":[{}]},"mark":{"type":"rule","color":"#3a3a3a","strokeWidth":1},"encoding":{"y":{"datum":100,"type":"quantitative"}}},
{"data":{"values":[{}]},"mark":{"type":"rule","color":"#8a8a8a","strokeDash":[1,2],"strokeWidth":1},"encoding":{"y":{"datum":70,"type":"quantitative"}}},
{"data":{"values":[{}]},"mark":{"type":"rule","color":"#8a8a8a","strokeDash":[1,2],"strokeWidth":1},"encoding":{"y":{"datum":30,"type":"quantitative"}}},
{"data":{"values":[{}]},"mark":{"type":"rule","color":"#d0d0d0","strokeDash":[3,3],"strokeWidth":1},"encoding":{"y":{"datum":50,"type":"quantitative"}}},
{"data":{"name":"nk"},"mark":{"type":"line","color":"#3fa52c","strokeWidth":1},
 "encoding":{
  "x":{"field":"d","type":"temporal","axis":{"orient":"bottom","tickCount":40,"values":[{"year":1987,"month":12,"date":1,"utc":true},{"year":1989,"month":12,"date":1,"utc":true},{"year":1991,"month":12,"date":1,"utc":true},{"year":1993,"month":12,"date":1,"utc":true},{"year":1995,"month":12,"date":1,"utc":true},{"year":1997,"month":12,"date":1,"utc":true},{"year":1999,"month":12,"date":1,"utc":true},{"year":2001,"month":12,"date":1,"utc":true},{"year":2003,"month":12,"date":1,"utc":true},{"year":2005,"month":12,"date":1,"utc":true},{"year":2007,"month":12,"date":1,"utc":true},{"year":2009,"month":12,"date":1,"utc":true},{"year":2011,"month":12,"date":1,"utc":true},{"year":2013,"month":12,"date":1,"utc":true},{"year":2015,"month":12,"date":1,"utc":true},{"year":2017,"month":12,"date":1,"utc":true}],
   "labelExpr":"[utcFormat(datum.value, '%m'), utcFormat(datum.value, '%Y')]",
   "grid":true,"gridColor":"#1a1a1a","domain":false,"ticks":false,"labelFontSize":6.5,"labelColor":"#dddddd","labelPadding":4,"labelLineHeight":8,"labelBaseline":"top","labelAlign":"center","labelOverlap":false,"title":null}},
  "y":{"field":"r","type":"quantitative","scale":{"domain":[8,100],"range":[345,292],"zero":false,"nice":false},
   "axis":{"orient":"right","values":[50],"format":"d","grid":false,"domain":false,"ticks":false,"labelAngle":-55,"labelAlign":"left","labelBaseline":"middle","labelFontSize":6.5,"labelColor":"#9a9a9a","labelPadding":6,"labelOverlap":false,"title":null}}}},
{"data":{"values":[{}]},"mark":{"type":"rule","color":"#3cd22c","strokeWidth":2},
 "encoding":{"x":{"datum":{"year":2015,"month":3,"date":7,"utc":true},"type":"temporal"},"x2":{"datum":{"year":2018,"month":3,"date":26,"utc":true}},"y":{"datum":85.6,"type":"quantitative"},"y2":{"datum":74}}},
{"data":{"values":[{}]},"mark":{"type":"text","text":"RSI14 = ","fontSize":5.5,"color":"#dddddd","align":"left","baseline":"alphabetic"},
 "encoding":{"x":{"datum":{"year":1986,"month":5,"date":10,"utc":true},"type":"temporal"},"y":{"datum":90.45,"type":"quantitative"}}},
{"data":{"values":[{}]},"mark":{"type":"text","text":"60.516","fontSize":5.5,"color":"#33cc33","align":"left","baseline":"alphabetic"},
 "encoding":{"x":{"datum":{"year":1987,"month":12,"date":1,"utc":true},"type":"temporal"},"y":{"datum":90.45,"type":"quantitative"}}},
{"data":{"values":[{}]},"mark":{"type":"rect","color":"#ffffff","stroke":"#777777","strokeWidth":0.5},
 "encoding":{"x":{"datum":{"year":2018,"month":10,"date":14,"utc":true},"type":"temporal"},"x2":{"datum":{"year":2019,"month":12,"date":10,"utc":true}},"y":{"datum":73.96,"type":"quantitative"},"y2":{"datum":63.55}}},
{"data":{"values":[{}]},"mark":{"type":"text","text":"70.00","fontSize":5.5,"color":"#000000","align":"center","baseline":"middle"},
 "encoding":{"x":{"datum":{"year":2019,"month":5,"date":14,"utc":true},"type":"temporal"},"y":{"datum":68.76,"type":"quantitative"}}},
{"data":{"values":[{}]},"mark":{"type":"rect","color":"#22cc22"},
 "encoding":{"x":{"datum":{"year":2018,"month":8,"date":26,"utc":true},"type":"temporal"},"x2":{"datum":{"year":2020,"month":1,"date":4,"utc":true}},"y":{"datum":63.55,"type":"quantitative"},"y2":{"datum":53.13}}},
{"data":{"values":[{}]},"mark":{"type":"text","text":"60.516","fontSize":5.5,"color":"#eaffea","align":"center","baseline":"middle"},
 "encoding":{"x":{"datum":{"year":2019,"month":5,"date":14,"utc":true},"type":"temporal"},"y":{"datum":58.34,"type":"quantitative"}}},
{"data":{"values":[{}]},"mark":{"type":"rect","color":"#ffffff","stroke":"#777777","strokeWidth":0.5},
 "encoding":{"x":{"datum":{"year":2018,"month":10,"date":14,"utc":true},"type":"temporal"},"x2":{"datum":{"year":2019,"month":12,"date":10,"utc":true}},"y":{"datum":34.04,"type":"quantitative"},"y2":{"datum":23.62}}},
{"data":{"values":[{}]},"mark":{"type":"text","text":"30.00","fontSize":5.5,"color":"#000000","align":"center","baseline":"middle"},
 "encoding":{"x":{"datum":{"year":2019,"month":5,"date":14,"utc":true},"type":"temporal"},"y":{"datum":28.83,"type":"quantitative"}}},
{"data":{"values":[{}]},"mark":{"type":"text","text":"Data Source: Nikkei Inc.","fontSize":6,"color":"#dddddd","align":"left","baseline":"alphabetic"},
 "encoding":{"x":{"datum":{"year":1986,"month":4,"date":15,"utc":true},"type":"temporal"},"y":{"datum":-37.1,"type":"quantitative"}}},
{"data":{"values":[{}]},"mark":{"type":"text","text":"GoldSwitzerland","fontSize":7.5,"fontWeight":"bold","color":"#e8b000","align":"center","baseline":"alphabetic"},
 "encoding":{"x":{"datum":{"year":2012,"month":3,"date":16,"utc":true},"type":"temporal"},"y":{"datum":-32.8,"type":"quantitative"}}},
{"data":{"values":[{}]},"mark":{"type":"text","text":"Charts by NetDania Mobile","fontSize":6.2,"color":"#dddddd","align":"right","baseline":"alphabetic"},
 "encoding":{"x":{"datum":{"year":2020,"month":2,"date":23,"utc":true},"type":"temporal"},"y":{"datum":-37.1,"type":"quantitative"}}}
]}
]
}
]
}
